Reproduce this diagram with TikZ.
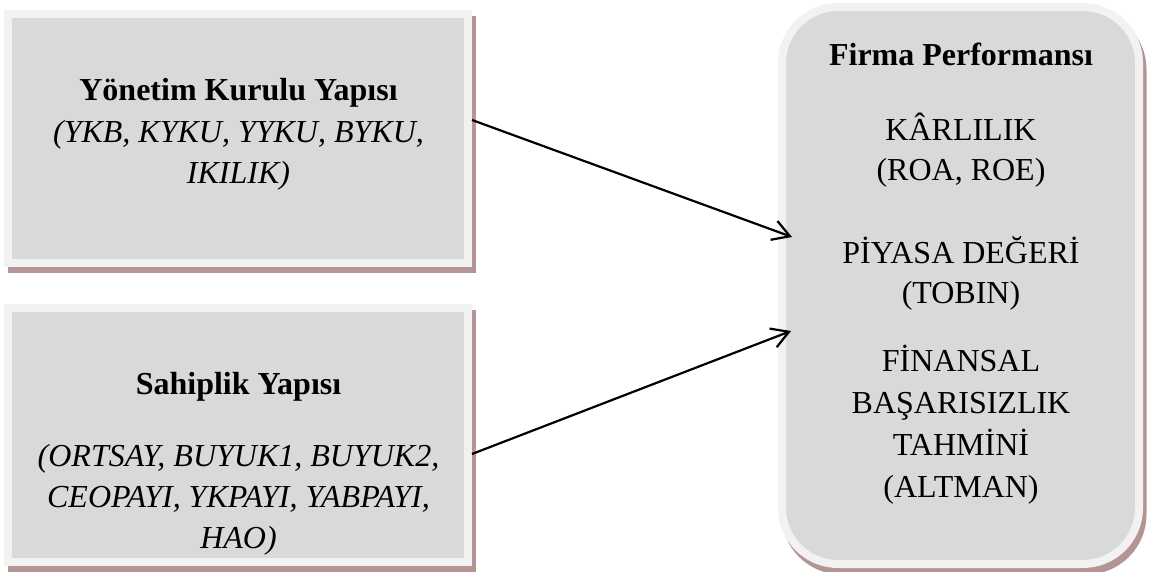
\documentclass[tikz,border=0pt]{standalone}
\usepackage{fontspec}
\setmainfont{Liberation Serif}
\usetikzlibrary{arrows.meta}
\definecolor{boxfill}{HTML}{D9D9D9}
\definecolor{boxedge}{HTML}{F2F2F2}
\definecolor{shadowc}{RGB}{181,148,148}
\tikzset{
  boxshape/.style={rectangle, fill=boxfill, draw=boxedge, line width=8pt, inner sep=0pt,
    preaction={fill=shadowc, draw=shadowc, line width=8pt,
      transform canvas={xshift=3.5pt, yshift=-6.5pt}}},
  txt/.style={anchor=base, inner sep=0pt, font=\fontsize{32}{41}\selectfont},
  arr/.style={line width=2.2pt, -{Straight Barb[length=17pt, width=20pt]}}
}
\begin{document}
\begin{tikzpicture}[x=1pt, y=-1pt]
\useasboundingbox (0,0) rectangle (1152,572);
% boxes
\node[boxshape, minimum width=460pt, minimum height=249pt] (b1) at (238,138.5) {};
\node[boxshape, minimum width=460pt, minimum height=254pt] (b2) at (238,435) {};
\node[boxshape, rounded corners=56pt, minimum width=357pt, minimum height=557pt] (b3) at (960.5,285.5) {};
% texts box 1
\node[txt] (y1) at (238.5,101) {\bfseries Yönetim Kurulu Yapısı};
\node[txt] (y2) at (238.5,143) {\itshape (YKB, KYKU, YYKU, BYKU,};
\node[txt] (y3) at (238.5,184) {\itshape IKILIK)};
% texts box 2
\node[txt] (s1) at (238.5,394) {\bfseries Sahiplik Yapısı};
\node[txt] (s2) at (238.5,466) {\itshape (ORTSAY, BUYUK1, BUYUK2,};
\node[txt] (s3) at (238.5,507) {\itshape CEOPAYI, YKPAYI, YABPAYI,};
\node[txt] (s4) at (238.5,548) {\itshape HAO)};
% texts box 3
\node[txt] (f1) at (961,66) {\bfseries Firma Performansı};
\node[txt] (f2) at (961,141) {KÂRLILIK};
\node[txt] (f3) at (961,181) {(ROA, ROE)};
\node[txt] (f4) at (961,264) {PİYASA DEĞERİ};
\node[txt] (f5) at (961,304) {(TOBIN)};
\node[txt] (f6) at (961,371) {FİNANSAL};
\node[txt] (f7) at (961,413) {BAŞARISIZLIK};
\node[txt] (f8) at (961,455) {TAHMİNİ};
\node[txt] (f9) at (961,497) {(ALTMAN)};
% arrows
\coordinate (t1) at (792,237);
\coordinate (t2) at (791,331);
\draw[arr] ([yshift=18.5pt]b1.east) -- (t1);
\draw[arr] ([yshift=-19pt]b2.east) -- (t2);
\end{tikzpicture}
\end{document}
